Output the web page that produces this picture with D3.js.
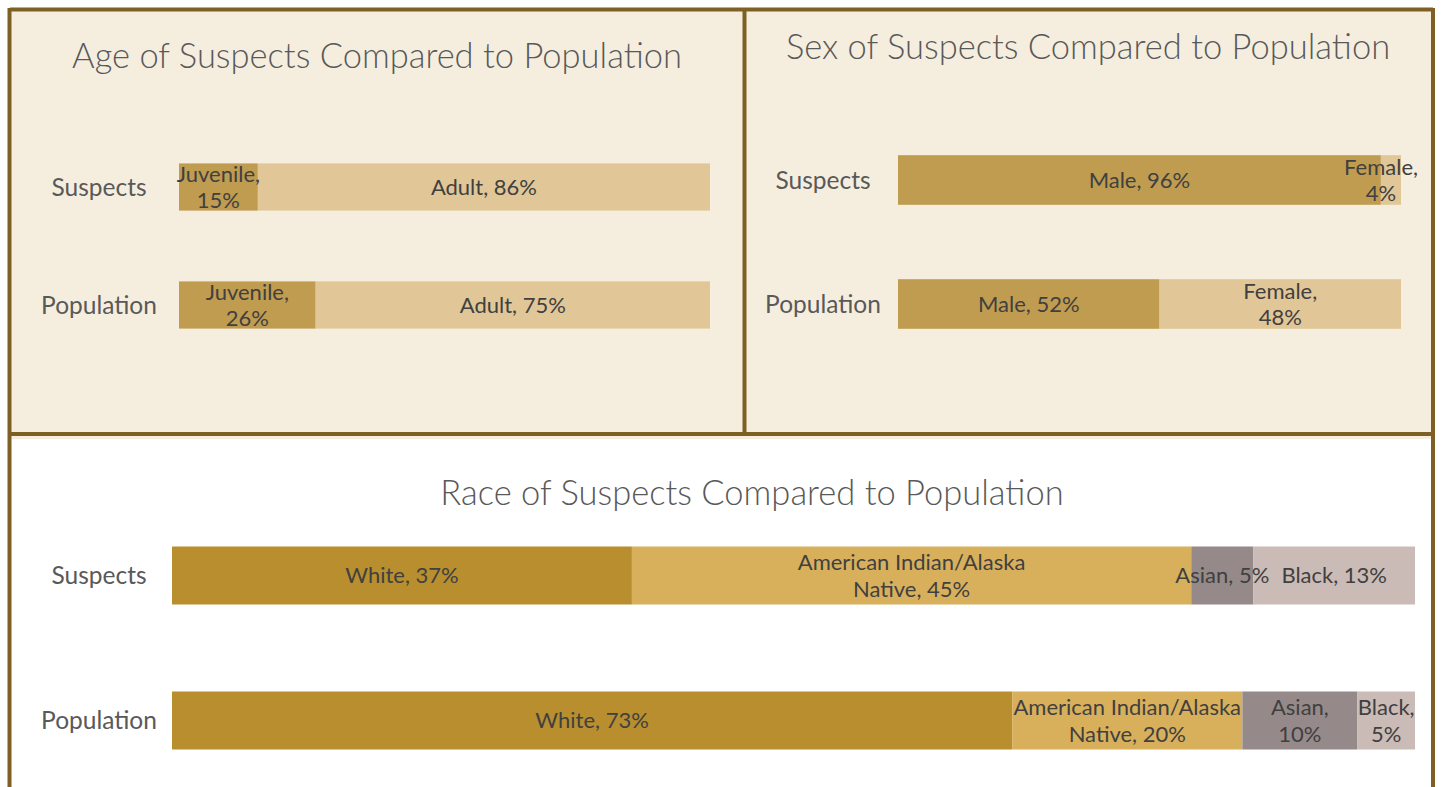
<!DOCTYPE html>
<html>
<head>
<meta charset="utf-8">
<script src="https://d3js.org/d3.v7.min.js"></script>
<style>
  body { margin: 0; background: #fff; }
  svg text { font-family: Lato, "Open Sans", sans-serif; }
</style>
</head>
<body>
<div id="chart"></div>
<script>
// data
const rowLabels = ["Suspects", "Population"];

const ageGroups = ["Juvenile", "Adult"];
const ageSuspects = [15, 86];
const agePopulation = [26, 75];

const sexGroups = ["Male", "Female"];
const sexSuspects = [96, 4];
const sexPopulation = [52, 48];

const raceGroups = ["White", "American Indian/Alaska Native", "Asian", "Black"];
const raceSuspects = [37, 45, 5, 13];
const racePopulation = [73, 20, 10, 5];

// which labels Excel wrapped onto two lines
const ageWrap = [[true, false], [true, false]];
const sexWrap = [[false, true], [false, true]];
const raceWrap = [[false, true, false, false], [false, true, true, true]];

const W = 1441, H = 787;
const frame = "#7f6024";
const cream = "#f5eedf";

const svg = d3.select("#chart").append("svg")
    .attr("width", W).attr("height", H);

svg.append("rect").attr("width", W).attr("height", H).attr("fill", "#fff");

// panel backgrounds
svg.append("rect").attr("x", 10).attr("y", 10).attr("width", 1423).attr("height", 429).attr("fill", cream);
svg.append("rect").attr("x", 10).attr("y", 439).attr("width", 1423).attr("height", 360).attr("fill", "#fff");

// frame lines
const frameLines = [
  [10, 9.5, 1433, 9.5],      // top
  [9.5, 8, 9.5, 790],        // left
  [1433, 8, 1433, 790],      // right
  [744.5, 8, 744.5, 434],    // divider
  [8, 434, 1435, 434]        // middle
];
svg.selectAll("line.frame").data(frameLines).enter().append("line")
    .attr("class", "frame")
    .attr("x1", d => d[0]).attr("y1", d => d[1])
    .attr("x2", d => d[2]).attr("y2", d => d[3])
    .attr("stroke", frame).attr("stroke-width", 4);

function drawPanel(cfg) {
  const g = svg.append("g");
  const rows = [cfg.suspects, cfg.population];

  g.append("text")
      .attr("x", cfg.titleX).attr("y", cfg.titleY)
      .attr("text-anchor", "middle")
      .attr("fill", "#595959")
      .style("font-size", cfg.titleSize + "px")
      .style("font-weight", 300)
      .text(cfg.title);

  const y = d3.scaleBand().domain(rowLabels).range(cfg.yRange)
      .paddingInner(0.6).paddingOuter(0.3);

  rows.forEach((vals, ri) => {
    const total = d3.sum(vals);
    const x = d3.scaleLinear().domain([0, total]).range(cfg.xRange);
    const cum = d3.cumsum(vals);
    const segs = vals.map((v, i) => ({
      name: cfg.groups[i], v: v, i: i,
      x0: x(cum[i] - v), x1: x(cum[i])
    }));
    const yTop = y(rowLabels[ri]);
    const bh = y.bandwidth();
    const cy = yTop + bh / 2;

    g.append("text")
        .attr("x", cfg.catX).attr("y", cy).attr("dy", "0.36em")
        .attr("text-anchor", "middle")
        .attr("fill", "#595959")
        .style("font-size", cfg.catSize + "px")
        .text(rowLabels[ri]);

    g.selectAll(null).data(segs).enter().append("rect")
        .attr("x", d => d.x0).attr("y", yTop)
        .attr("width", d => d.x1 - d.x0).attr("height", bh)
        .attr("fill", d => cfg.colors[d.i]);

    segs.forEach(d => {
      const full = d.name + ", " + d.v + "%";
      const t = g.append("text")
          .attr("text-anchor", "middle")
          .attr("fill", "#404040")
          .style("font-size", cfg.labelSize + "px");
      let lines = [full];
      if (cfg.wrap[ri][d.i]) {
        // split at the space that keeps the longest line shortest
        const words = full.split(" ");
        let best = null;
        for (let k = 1; k < words.length; k++) {
          const a = words.slice(0, k).join(" "), b = words.slice(k).join(" ");
          const m = Math.max(a.length, b.length);
          if (!best || m < best.m) best = { m: m, l: [a, b] };
        }
        lines = best.l;
      }
      const lh = cfg.labelSize * 1.22;
      let cx = (d.x0 + d.x1) / 2;
      lines.forEach((ln, li) => {
        t.append("tspan")
            .attr("x", cx)
            .attr("y", cy + (li - (lines.length - 1) / 2) * lh)
            .attr("dy", "0.36em")
            .text(ln);
      });
      // keep the label inside the panel
      const w = t.node().getBBox().width;
      cx = Math.min(cx, cfg.panelRight - 13 - w / 2);
      t.selectAll("tspan").attr("x", cx);
    });
  });
}

drawPanel({
  title: "Age of Suspects Compared to Population",
  titleX: 377, titleY: 68, titleSize: 34.5,
  groups: ageGroups, suspects: ageSuspects, population: agePopulation,
  colors: ["#c09c50", "#e1c797"], wrap: ageWrap,
  xRange: [179, 710], yRange: [128, 364],
  catX: 99, catSize: 24.5, labelSize: 22, panelRight: 742
});

drawPanel({
  title: "Sex of Suspects Compared to Population",
  titleX: 1088, titleY: 59, titleSize: 34.5,
  groups: sexGroups, suspects: sexSuspects, population: sexPopulation,
  colors: ["#c09c50", "#e1c797"], wrap: sexWrap,
  xRange: [898, 1401], yRange: [118, 366],
  catX: 823, catSize: 24.5, labelSize: 22, panelRight: 1431
});

drawPanel({
  title: "Race of Suspects Compared to Population",
  titleX: 752, titleY: 505, titleSize: 34.5,
  groups: raceGroups, suspects: raceSuspects, population: racePopulation,
  colors: ["#b98e2f", "#d8b05c", "#958a89", "#cbbbb6"], wrap: raceWrap,
  xRange: [172, 1415], yRange: [503, 793],
  catX: 99, catSize: 24.5, labelSize: 22, panelRight: 1431
});
</script>
</body>
</html>
